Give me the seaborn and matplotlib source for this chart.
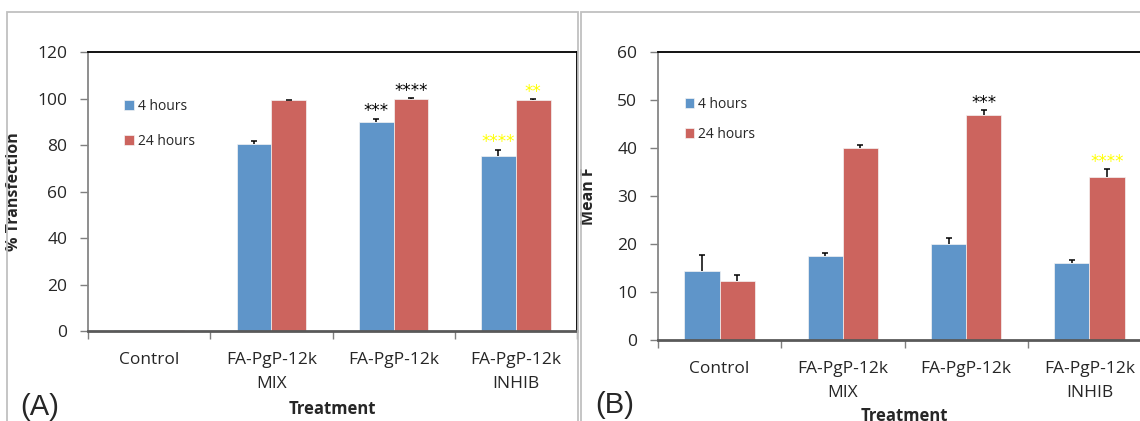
import pandas as pd
import matplotlib
matplotlib.use("Agg")
import matplotlib.pyplot as plt
import seaborn as sns
from matplotlib.patches import Rectangle

# data
treatments = ["Control", "FA-PgP-12k\nMIX", "FA-PgP-12k", "FA-PgP-12k\nINHIB"]
hours = ["4 hours", "24 hours"]

transf_4h = [0.5, 80.4, 89.9, 75.2]
transf_24h = [0.5, 99.3, 100.0, 99.6]
transf_err_4h = [0.0, 1.3, 1.4, 2.7]
transf_err_24h = [0.0, 0.2, 0.2, 0.2]
transf_stars_4h = ["", "", "***", "****"]
transf_stars_24h = ["", "", "****", "**"]
transf_star_col_4h = ["black", "black", "black", "yellow"]
transf_star_col_24h = ["black", "black", "black", "yellow"]

meanf_4h = [14.4, 17.5, 20.0, 16.0]
meanf_24h = [12.3, 40.1, 46.9, 33.9]
meanf_err_4h = [3.3, 0.6, 1.3, 0.6]
meanf_err_24h = [1.2, 0.5, 1.0, 1.7]
meanf_stars_4h = ["", "", "", ""]
meanf_stars_24h = ["", "", "***", "****"]
meanf_star_col_4h = ["black", "black", "black", "black"]
meanf_star_col_24h = ["black", "black", "black", "yellow"]

BLUE = "#5f95c9"
RED = "#cc645e"

sns.set_theme(style="white")
plt.rcParams['font.family'] = ['Open Sans', 'DejaVu Sans']

W, H = 1140, 421
fig = plt.figure(figsize=(W / 100, H / 100), dpi=100)


def px_axes(left, top, right, bottom):
    return fig.add_axes([left / W, 1 - bottom / H, (right - left) / W, (bottom - top) / H])


def draw_panel(ax, v4, v24, e4, e24, s4, s24, c4, c24, ymax, ystep, ylabel):
    df = pd.DataFrame({
        "Treatment": treatments * 2,
        "value": v4 + v24,
        "time": [hours[0]] * 4 + [hours[1]] * 4,
    })
    sns.barplot(data=df, x="Treatment", y="value", hue="time", order=treatments,
                hue_order=hours, palette=[BLUE, RED], width=0.57, errorbar=None,
                edgecolor="#f4f4f4", linewidth=0.5, saturation=1, ax=ax)

    errs = [e4, e24]
    stars = [s4, s24]
    cols = [c4, c24]
    bar_conts = list(ax.containers)
    for k, cont in enumerate(bar_conts):
        for i, bar in enumerate(cont):
            x = bar.get_x() + bar.get_width() / 2
            h = bar.get_height()
            if errs[k][i] > 0:
                _, caps, _ = ax.errorbar(x, h, yerr=[[0], [errs[k][i]]], fmt="none",
                                         ecolor="black", elinewidth=1.1, capsize=2.3,
                                         capthick=1.1)
                caps[0].set_visible(False)
            if stars[k][i]:
                ax.annotate(stars[k][i], (x, h + errs[k][i]), xytext=(0, -1),
                            textcoords="offset points", ha="center", va="bottom",
                            fontsize=12, color=cols[k][i], family="DejaVu Sans")

    ax.set_ylim(0, ymax)
    ax.set_yticks(range(0, ymax + 1, ystep))
    ax.set_xlim(-0.5, 3.5)
    ax.set_xticks(range(len(treatments)))
    ax.set_xticklabels(treatments, fontsize=12.5, linespacing=1.7)
    ax.set_xticks([i - 0.5 for i in range(len(treatments) + 1)], minor=True)
    ax.tick_params(axis="x", which="major", length=0, pad=15)
    ax.tick_params(axis="x", which="minor", length=6, width=1, color="#7f7f7f", direction="out",
                   bottom=True)
    ax.tick_params(axis="y", length=6, width=1, color="#7f7f7f", direction="out", left=True,
                   labelsize=12.5, pad=9)

    for side in ["top", "right"]:
        ax.spines[side].set_color("black")
        ax.spines[side].set_linewidth(1.3)
    ax.spines["left"].set_color("#868686")
    ax.spines["left"].set_linewidth(1.3)
    ax.spines["bottom"].set_color("#595959")
    ax.spines["bottom"].set_linewidth(2)

    ax.set_ylabel(ylabel, fontsize=11.5, fontweight="bold")
    ax.set_xlabel("Treatment", fontsize=12, fontweight="bold")
    ax.grid(False)


# panel frames
fig.patches.append(Rectangle((7 / W, -0.1), (578.5 - 7) / W, 1.1 - 12 / H, transform=fig.transFigure,
                             fill=False, edgecolor="#c0c0c0", linewidth=1.3))
fig.patches.append(Rectangle((581 / W, -0.1), 0.5, 1.1 - 12 / H, transform=fig.transFigure,
                             fill=False, edgecolor="#c0c0c0", linewidth=1.3))

ax_a = px_axes(88, 52.3, 577, 331)
draw_panel(ax_a, transf_4h, transf_24h, transf_err_4h, transf_err_24h,
           transf_stars_4h, transf_stars_24h, transf_star_col_4h, transf_star_col_24h,
           120, 20, "% Transfection")
ax_a.yaxis.set_label_coords(-0.135, 0.5)
ax_a.xaxis.set_label_coords(0.5, -0.28)
ax_a.xaxis.label.set_va("center")
ax_a.legend(loc="upper left", bbox_to_anchor=(0.0736, 0.833), frameon=False, fontsize=10,
            borderaxespad=0, borderpad=0, handlelength=0.7, handleheight=0.7,
            handletextpad=0.3, labelspacing=1.45)

ax_b = px_axes(658, 52.3, 1151, 340)
draw_panel(ax_b, meanf_4h, meanf_24h, meanf_err_4h, meanf_err_24h,
           meanf_stars_4h, meanf_stars_24h, meanf_star_col_4h, meanf_star_col_24h,
           60, 10, "Mean F")
ax_b.yaxis.set_label_coords(-0.124, 0.5)
ax_b.xaxis.set_label_coords(0.5, -0.264)
ax_b.xaxis.label.set_va("center")
ax_b.legend(loc="upper left", bbox_to_anchor=(0.0538, 0.845), frameon=False, fontsize=10,
            borderaxespad=0, borderpad=0, handlelength=0.7, handleheight=0.7,
            handletextpad=0.3, labelspacing=1.08)

fig.text(20 / W, 1 - 407 / H, "(A)", fontsize=21, family="Liberation Sans", va="center")
fig.text(595 / W, 1 - 405 / H, "(B)", fontsize=21, family="Liberation Sans", va="center")

fig.savefig("out.png", dpi=100)
